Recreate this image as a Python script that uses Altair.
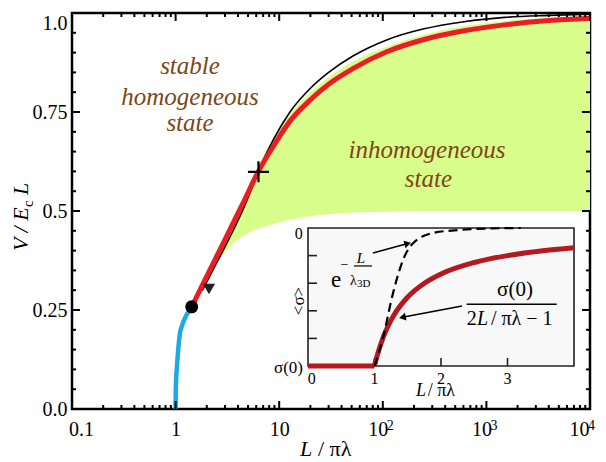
import altair as alt
import pandas as pd

FONT = "Liberation Serif"
W, H = 518, 396
BROWN = "#7d4716"
RED = "#ec1c24"
DARKRED = "#b3191e"
BLUE = "#1ea8e4"
GREEN = "#d8fd8a"

# ---------------- main panel data (x = L/pi*lambda, y = V/(Ec L)) ----------------
blue_x = [1.0, 1.003, 1.01, 1.03, 1.06, 1.1, 1.17, 1.25, 1.33, 1.43]
blue_y = [0.0, 0.04, 0.07, 0.107, 0.15, 0.19, 0.215, 0.233, 0.246, 0.258]

red_x = [1.43, 1.76, 2.2, 3.0, 4.5, 6.3, 9, 12.7, 20, 30, 52, 109, 250, 607, 1500, 4000, 10000]
red_y = [0.258, 0.306, 0.357, 0.428, 0.521, 0.6, 0.668, 0.727, 0.781, 0.82, 0.86, 0.902, 0.933, 0.955, 0.97, 0.981, 0.987]

black_x = [1.8, 2.2, 3.0, 4.5, 5.5, 6.3, 9, 12.7, 20, 30, 52, 109, 250, 607, 1500, 4000, 10000]
black_y = [0.298, 0.342, 0.41, 0.505, 0.56, 0.6, 0.685, 0.75, 0.81, 0.85, 0.892, 0.932, 0.96, 0.978, 0.989, 0.994, 0.997]

band_x = [1.9, 2.2, 2.6, 3.0, 3.5, 4.5, 6.3, 9, 12.7, 20, 30, 52, 109, 250, 607, 1500, 4000, 10000]
band_hi = [0.32, 0.367, 0.41, 0.44, 0.48, 0.535, 0.615, 0.69, 0.745, 0.8, 0.838, 0.878, 0.915, 0.945, 0.967, 0.98, 0.988, 0.993]
band_lo = [0.32, 0.345, 0.375, 0.395, 0.415, 0.437, 0.455, 0.468, 0.478, 0.487, 0.492, 0.496, 0.498, 0.5, 0.5, 0.5, 0.5, 0.5]

dot_pt = {"x": [1.43], "y": [0.258]}
tri_pt = {"x": [2.1], "y": [0.303]}
cross_pt = {"x": [6.31], "y": [0.599]}

region_text = ["stable", "homogeneous", "state", "inhomogeneous", "state"]
region_x = [1.377, 1.377, 1.377, 267, 276]
region_y = [0.845, 0.768, 0.703, 0.633, 0.561]

x_major = [0.1, 1, 10, 100, 1000, 10000]
x_minor = [m * d for d in [0.1, 1, 10, 100, 1000] for m in range(2, 10)]
y_major = [0.0, 0.25, 0.5, 0.75, 1.0]
y_minor = [0.05, 0.1, 0.15, 0.2, 0.3, 0.35, 0.4, 0.45, 0.55, 0.6, 0.65, 0.7, 0.8, 0.85, 0.9, 0.95]
exp_x = [100, 1000, 10000]
exp_text = ["2", "3", "4"]

# ---------------- inset data (x = L/pi*lambda, v = <sigma>/sigma(0), 1 at bottom) ----------------
in_flat_x = [0, 1.0]
in_flat_v = [1.0, 1.0]
in_red_x = [1.0, 1.02, 1.05, 1.1, 1.2, 1.3, 1.5, 1.75, 2.0, 2.5, 3.0, 3.5, 4.0]
in_red_v = [1.0, 0.96, 0.909, 0.833, 0.714, 0.625, 0.5, 0.4, 0.333, 0.25, 0.2, 0.167, 0.143]
in_dash_x = [1.0, 1.03, 1.13, 1.28, 1.43, 1.58, 1.88, 2.29, 2.78, 3.2]
in_dash_v = [1.0, 0.957, 0.79, 0.47, 0.23, 0.11, 0.036, 0.014, 0.003, 0.0]
in_xticks = [1, 2, 3]
in_xlabels = ["0", "1", "2", "3"]
in_xlabel_pos = [0.056, 1, 2, 3]
in_yticks = [0.2, 0.4, 0.6, 0.8]

# ---------------- scales / axes ----------------
xs = alt.Scale(type="log", domain=[0.1, 10000], nice=False)
ys = alt.Scale(domain=[0, 1], nice=False, zero=False)
x_axis = alt.Axis(
    values=x_major, title=None, grid=False, domain=False, ticks=False, tickSize=0,
    labelExpr="datum.value < 0.5 ? '0.1' : (datum.value < 5 ? '1' : '10')",
    labelFont=FONT, labelFontSize=20, labelColor="black", labelPadding=10,
    labelBaseline="top", labelFlush=False, labelOverlap=False,
    labelOffset={"condition": [{"test": "datum.value < 0.5", "value": 9},
                               {"test": "datum.value > 5000", "value": -11},
                               {"test": "datum.value > 50", "value": -5}], "value": 0},
)
y_axis = alt.Axis(
    values=y_major, title=None, grid=False, domain=False, ticks=False, tickSize=0,
    labelExpr=("datum.value < 0.1 ? '0.0' : (datum.value < 0.3 ? '0.25' : "
               "(datum.value < 0.6 ? '0.5' : (datum.value < 0.9 ? '0.75' : '1.0')))"),
    labelFont=FONT, labelFontSize=20, labelColor="black", labelPadding=5,
    labelFlush=False, labelOverlap=False,
    labelBaseline={"condition": {"test": "datum.value > 0.9", "value": "top"}, "value": "middle"},
)


def MX(f):
    return alt.X(f, type="quantitative", scale=xs, axis=x_axis)


def MY(f):
    return alt.Y(f, type="quantitative", scale=ys, axis=y_axis)


xis = alt.Scale(domain=[0, 4], range=[236, 502], nice=False, zero=False)
yis = alt.Scale(domain=[0, 1], range=[215, 353], nice=False, zero=False)


def IX(f):
    return alt.X(f, type="quantitative", scale=xis, axis=None)


def IY(f):
    return alt.Y(f, type="quantitative", scale=yis, axis=None)


SMOOTH = "monotone"

# ---------------- main layers ----------------
band = alt.Chart(pd.DataFrame({"x": band_x, "lo": band_lo, "hi": band_hi})).mark_area(
    color=GREEN, opacity=1, interpolate=SMOOTH).encode(x=MX("x"), y=MY("lo"), y2=alt.Y2("hi"))
blue = alt.Chart(pd.DataFrame({"x": blue_x, "y": blue_y})).mark_line(
    color=BLUE, strokeWidth=4.5, interpolate=SMOOTH).encode(x=MX("x"), y=MY("y"))
black = alt.Chart(pd.DataFrame({"x": black_x, "y": black_y})).mark_line(
    color="black", strokeWidth=1.6, interpolate=SMOOTH).encode(x=MX("x"), y=MY("y"))
red = alt.Chart(pd.DataFrame({"x": red_x, "y": red_y})).mark_line(
    color=RED, strokeWidth=5, interpolate=SMOOTH).encode(x=MX("x"), y=MY("y"))
dot = alt.Chart(pd.DataFrame(dot_pt)).mark_point(
    shape="circle", filled=True, color="black", size=169, opacity=1).encode(x=MX("x"), y=MY("y"))
tri = alt.Chart(pd.DataFrame(tri_pt)).mark_point(
    shape="triangle-down", filled=True, color="#222", size=150, opacity=1).encode(x=MX("x"), y=MY("y"))
cross = alt.Chart(pd.DataFrame(cross_pt)).mark_point(
    shape="M -1 0 L 1 0 M 0 -1 L 0 1", filled=False, color="black", strokeWidth=2.2,
    size=441, opacity=1).encode(x=MX("x"), y=MY("y"))
regions = alt.Chart(pd.DataFrame({"x": region_x, "y": region_y, "t": region_text})).mark_text(
    font=FONT, fontStyle="italic", fontSize=25, color=BROWN, align="center",
    baseline="alphabetic").encode(x=MX("x"), y=MY("y"), text="t:N")

xt_maj = pd.DataFrame({"t": x_major, "y0": 0.0, "y1": 1.0})
xt_min = pd.DataFrame({"t": x_minor, "y0": 0.0, "y1": 1.0})
yt_maj = pd.DataFrame({"t": y_major, "x0": 0.1, "x1": 10000.0})
yt_min = pd.DataFrame({"t": y_minor, "x0": 0.1, "x1": 10000.0})
tick_layers = []
for df, ln in [(xt_maj, 8), (xt_min, 4)]:
    tick_layers.append(alt.Chart(df).mark_rule(color="black", strokeWidth=2, y2Offset=-ln).encode(
        x=MX("t"), y=MY("y0"), y2=alt.Y2("y0")))
    tick_layers.append(alt.Chart(df).mark_rule(color="black", strokeWidth=2, y2Offset=ln).encode(
        x=MX("t"), y=MY("y1"), y2=alt.Y2("y1")))
for df, ln in [(yt_maj, 8), (yt_min, 4)]:
    tick_layers.append(alt.Chart(df).mark_rule(color="black", strokeWidth=2, x2Offset=ln).encode(
        y=MY("t"), x=MX("x0"), x2=alt.X2("x0")))
    tick_layers.append(alt.Chart(df).mark_rule(color="black", strokeWidth=2, x2Offset=-ln).encode(
        y=MY("t"), x=MX("x1"), x2=alt.X2("x1")))

exp_df = pd.DataFrame({"x": exp_x, "y": 0.0, "t": exp_text})
exps_a = alt.Chart(exp_df[exp_df.x < 5000]).mark_text(
    font=FONT, fontSize=14, align="left", baseline="alphabetic", dx=4, dy=21, color="black").encode(
    x=MX("x"), y=MY("y"), text="t:N")
exps_b = alt.Chart(exp_df[exp_df.x > 5000]).mark_text(
    font=FONT, fontSize=14, align="left", baseline="alphabetic", dx=-2, dy=21, color="black").encode(
    x=MX("x"), y=MY("y"), text="t:N")

one = pd.DataFrame({"a": [0]})


def label(text, px, py, size, italic=False, angle=0, align="left", baseline="alphabetic"):
    kw = dict(font=FONT, fontSize=size, align=align, baseline=baseline, color="black")
    if italic:
        kw["fontStyle"] = "italic"
    if angle:
        kw["angle"] = angle
    return alt.Chart(one).mark_text(**kw).encode(
        x=alt.value(px), y=alt.value(py), text=alt.value(text))


titles = [
    label("L", 228, 443, 22, italic=True),
    label("/ πλ", 246, 443, 22),
    label("V / E", -44, 238, 22, italic=True, angle=270),
    label("c", -39, 194, 15, angle=270),
    label("L", -44, 182, 22, italic=True, angle=270),
]

main = alt.layer(band, blue, black, red, *tick_layers, dot, tri, cross, regions, exps_a, exps_b, *titles)

# ---------------- inset layers ----------------
frame = alt.Chart(pd.DataFrame({"x0": [0.0], "x1": [4.0], "v0": [0.0], "v1": [1.0]})).mark_rect(
    fill="#f8f8f8", stroke="#222", strokeWidth=1.6).encode(
    x=IX("x0"), x2=alt.X2("x1"), y=IY("v0"), y2=alt.Y2("v1"))
in_xt = alt.Chart(pd.DataFrame({"x": in_xticks, "v": 1.0})).mark_rule(
    color="#222", strokeWidth=1.6, y2Offset=-8).encode(x=IX("x"), y=IY("v"), y2=alt.Y2("v"))
in_yt = alt.Chart(pd.DataFrame({"v": in_yticks, "x": 0.0})).mark_rule(
    color="#222", strokeWidth=1.6, x2Offset=9).encode(y=IY("v"), x=IX("x"), x2=alt.X2("x"))
in_flat = alt.Chart(pd.DataFrame({"x": in_flat_x, "v": in_flat_v})).mark_line(
    color=DARKRED, strokeWidth=5).encode(x=IX("x"), y=IY("v"))
in_red = alt.Chart(pd.DataFrame({"x": in_red_x, "v": in_red_v})).mark_line(
    color=DARKRED, strokeWidth=5, interpolate=SMOOTH).encode(x=IX("x"), y=IY("v"))
in_dash = alt.Chart(pd.DataFrame({"x": in_dash_x, "v": in_dash_v})).mark_line(
    color="black", strokeWidth=2.2, strokeDash=[9, 5], interpolate=SMOOTH).encode(x=IX("x"), y=IY("v"))
in_xl = alt.Chart(pd.DataFrame({"x": in_xlabel_pos, "v": 1.13, "t": in_xlabels})).mark_text(
    font=FONT, fontSize=16, align="center", baseline="alphabetic", color="black").encode(
    x=IX("x"), y=IY("v"), text="t:N")


def itext(text, x, v, size, italic=False, align="left", baseline="alphabetic", angle=0):
    kw = dict(font=FONT, fontSize=size, align=align, baseline=baseline, color="black")
    if italic:
        kw["fontStyle"] = "italic"
    if angle:
        kw["angle"] = angle
    return alt.Chart(pd.DataFrame({"x": [x], "v": [v], "t": [text]})).mark_text(**kw).encode(
        x=IX("x"), y=IY("v"), text="t:N")


def iseg(x0, v0, x1, v1, width=1.5):
    return alt.Chart(pd.DataFrame({"x0": [x0], "v0": [v0], "x1": [x1], "v1": [v1]})).mark_rule(
        color="black", strokeWidth=width).encode(
        x=IX("x0"), y=IY("v0"), x2=alt.X2("x1"), y2=alt.Y2("v1"))


def ihead(x, v, angle):
    return alt.Chart(pd.DataFrame({"x": [x], "v": [v]})).mark_point(
        shape="triangle-right", filled=True, color="black", size=60, angle=angle, opacity=1).encode(
        x=IX("x"), y=IY("v"))


inset_texts = [
    itext("0", -0.08, 0.08, 16, align="right"),
    itext("σ(0)", -0.075, 1.05, 17, align="right"),
    itext("<σ>", -0.13, 0.529, 17, align="center", baseline="middle", angle=270),
    itext("L", 1.624, 1.217, 18, italic=True),
    itext("/ πλ", 1.80, 1.217, 18),
    # exponential label
    itext("e", 0.421, 0.428, 23, align="center"),
    itext("−", 0.55, 0.30, 14, align="center"),
    itext("L", 0.797, 0.254, 15, italic=True, align="center"),
    itext("λ", 0.684, 0.413, 14, align="center"),
    itext("3D", 0.737, 0.428, 11),
    # fraction label
    itext("σ(0)", 3.113, 0.493, 21, align="center"),
    itext("2", 2.386, 0.703, 20),
    itext("L", 2.541, 0.703, 20, italic=True),
    itext("/ πλ − 1", 2.75, 0.703, 20),
]
inset_segs = [
    iseg(0.692, 0.275, 0.962, 0.275, 1.2),
    iseg(2.386, 0.553, 3.74, 0.553, 1.5),
    iseg(0.977, 0.181, 1.50, 0.113, 1.5),
    iseg(2.316, 0.565, 1.42, 0.647, 1.5),
    ihead(1.50, 0.113, 345),
    ihead(1.42, 0.647, 169),
]

inset = alt.layer(frame, in_xt, in_yt, in_flat, in_red, in_dash, in_xl, *inset_texts, *inset_segs)

chart = alt.layer(main, inset).resolve_scale(x="independent", y="independent").properties(
    width=W, height=H,
    padding={"left": 72, "top": 13, "right": 16, "bottom": 53},
    autosize=alt.AutoSizeParams(type="none"),
    background="white",
).configure_view(stroke="black", strokeWidth=2.5)

chart.save("out.html", embed_options={"renderer": "svg", "actions": False})
